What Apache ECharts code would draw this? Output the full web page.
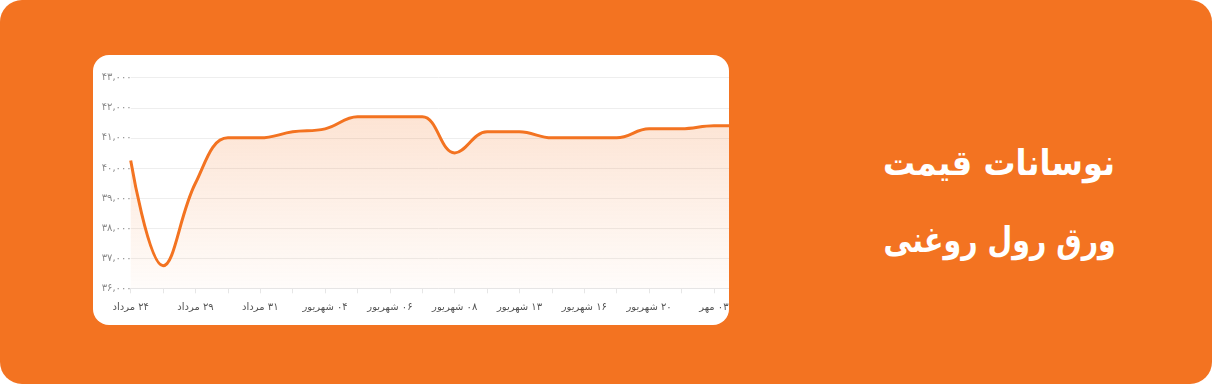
<!DOCTYPE html>
<html>
<head>
<meta charset="utf-8">
<script src="https://cdn.jsdelivr.net/npm/echarts@6/dist/echarts.min.js"></script>
<style>
  html, body { margin: 0; padding: 0; background: #ffffff; }
  #outer { position: absolute; left: 0; top: 0; width: 1212px; height: 384px; background: #F37321; border-radius: 22px; overflow: hidden; }
  #card { position: absolute; left: 93px; top: 55px; width: 636px; height: 270px; background: #ffffff; border-radius: 16px; overflow: hidden; }
  #chart { position: absolute; left: 0; top: 0; width: 690px; height: 270px; }
  .title { position: absolute; left: 999px; top: 0; color: #ffffff; font-family: 'DejaVu Sans', sans-serif; font-weight: bold; font-size: 35px; direction: rtl; white-space: nowrap; transform-origin: 50% 50%; }
</style>
</head>
<body>
<div id="outer">
  <div id="card"><div id="chart" dir="rtl"></div></div>
  <div class="title" id="t1">نوسانات قیمت</div>
  <div class="title" id="t2">ورق رول روغنی</div>
</div>
<script>
// ---- data ----
var categories = ['۲۴ مرداد','۲۶ مرداد','۲۹ مرداد','۳۰ مرداد','۳۱ مرداد','۰۲ شهریور','۰۴ شهریور','۰۵ شهریور','۰۶ شهریور','۰۷ شهریور','۰۸ شهریور','۱۰ شهریور','۱۳ شهریور','۱۴ شهریور','۱۶ شهریور','۱۸ شهریور','۲۰ شهریور','۲۷ شهریور','۰۳ مهر','۰۵ مهر'];
var prices = [40250, 36750, 39500, 41000, 41000, 41200, 41300, 41700, 41700, 41700, 40500, 41200, 41200, 41000, 41000, 41000, 41300, 41300, 41400, 41400];
var yMin = 36000;
var yMax = 43000;
var yStep = 1000;

// title placement: centre each line on x=999 and scale to the reference width
function placeTitle(id, cy, targetW) {
  var el = document.getElementById(id);
  var w = el.offsetWidth, h = el.offsetHeight;
  el.style.left = (999 - w / 2) + 'px';
  el.style.top = (cy - h / 2) + 'px';
  el.style.transform = 'scaleX(' + (targetW / w) + ')';
}
placeTitle('t1', 163, 232);
placeTitle('t2', 240, 232);

function toPersianDigits(s) {
  var d = '۰۱۲۳۴۵۶۷۸۹';
  return String(s).replace(/[0-9]/g, function (c) { return d[+c]; });
}
function fmtNum(v) {
  return toPersianDigits(String(v).replace(/\B(?=(\d{3})+(?!\d))/g, ','));
}

var chart = echarts.init(document.getElementById('chart'), null, { renderer: 'canvas' });
chart.setOption({
  animation: false,
  textStyle: { fontFamily: 'DejaVu Sans' },
  grid: { left: 37.7, right: 36.7, top: 22.7, bottom: 36.7, containLabel: false },
  xAxis: {
    type: 'category',
    data: categories,
    boundaryGap: false,
    axisLine: { lineStyle: { color: '#e6e6e6', width: 1 } },
    axisTick: { show: true, interval: 0, length: 5, lineStyle: { color: '#e6e6e6' } },
    axisLabel: { interval: 1, color: '#555555', fontSize: 10, margin: 14, fontFamily: 'DejaVu Sans' },
    splitLine: { show: false }
  },
  yAxis: {
    type: 'value',
    min: yMin,
    max: yMax,
    interval: yStep,
    axisLine: { show: false },
    axisTick: { show: false },
    axisLabel: { color: '#8a8a8a', fontSize: 10, margin: -1, formatter: fmtNum, fontFamily: 'DejaVu Sans' },
    splitLine: { lineStyle: { color: '#eeeeee', width: 1 } }
  },
  series: [{
    type: 'line',
    data: prices,
    smooth: 0.4,
    symbol: 'none',
    lineStyle: { color: '#F37321', width: 3 },
    areaStyle: {
      color: new echarts.graphic.LinearGradient(0, 0, 0, 1, [
        { offset: 0, color: 'rgba(243,115,33,0.28)' },
        { offset: 1, color: 'rgba(243,115,33,0.03)' }
      ])
    }
  }]
});
</script>
</body>
</html>
